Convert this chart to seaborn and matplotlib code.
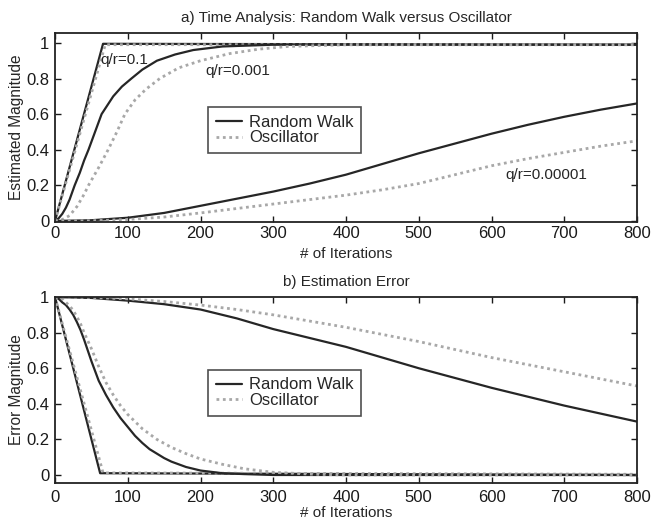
import matplotlib
matplotlib.use("Agg")
import matplotlib.pyplot as plt
import seaborn as sns

# ---- data -------------------------------------------------------------
# q/r = 0.1
fast_rw_iter = [0, 66, 800]
fast_rw_est = [0.0, 0.995, 0.99]
fast_osc_iter = [0, 69, 800]
fast_osc_est = [0.0, 0.99, 0.99]

# q/r = 0.001
mid_rw_iter = [0, 5, 10, 15, 20, 27, 34, 40, 46, 55, 64, 72, 80, 92, 105, 120,
               140, 165, 190, 230, 300, 800]
mid_rw_est = [0.0, 0.015, 0.04, 0.075, 0.12, 0.2, 0.27, 0.34, 0.4, 0.5, 0.6,
              0.65, 0.7, 0.755, 0.8, 0.85, 0.9, 0.935, 0.96, 0.98, 0.99, 0.99]
mid_osc_iter = [0, 10, 20, 30, 40, 46, 53, 60, 73, 85, 96, 110, 125, 144, 170,
                200, 240, 280, 320, 400, 800]
mid_osc_est = [0.0, 0.008, 0.03, 0.08, 0.15, 0.2, 0.25, 0.3, 0.4, 0.5, 0.6,
               0.68, 0.74, 0.8, 0.86, 0.9, 0.94, 0.965, 0.98, 0.99, 0.99]

# q/r = 0.00001
slow_iter = [0, 50, 100, 150, 200, 250, 300, 350, 400, 450, 500, 550, 600,
             650, 700, 750, 800]
slow_rw_est = [0.0, 0.004, 0.018, 0.045, 0.085, 0.125, 0.165, 0.21, 0.26,
               0.32, 0.38, 0.435, 0.49, 0.54, 0.585, 0.625, 0.66]
slow_osc_est = [0.0, 0.001, 0.008, 0.022, 0.045, 0.07, 0.095, 0.12, 0.145,
                0.175, 0.21, 0.26, 0.31, 0.35, 0.385, 0.42, 0.45]

# estimation error
fast_rw_err_iter = [0, 62, 800]
fast_rw_err = [1.0, 0.01, 0.0]
fast_osc_err_iter = [0, 66, 800]
fast_osc_err = [1.0, 0.012, 0.004]

mid_rw_err_iter = [0, 5, 10, 15, 20, 25, 30, 35, 40, 45, 50, 55, 60, 65, 70,
                   80, 90, 100, 110, 120, 130, 140, 150, 160, 180, 200, 230,
                   260, 300, 800]
mid_rw_err = [1.0, 0.99, 0.97, 0.955, 0.93, 0.9, 0.86, 0.815, 0.76, 0.7, 0.64,
              0.585, 0.53, 0.49, 0.45, 0.38, 0.32, 0.27, 0.22, 0.18, 0.145,
              0.12, 0.095, 0.075, 0.045, 0.025, 0.01, 0.005, 0.0, 0.0]
mid_osc_err_iter = [0, 10, 20, 25, 30, 35, 40, 45, 50, 55, 60, 65, 70, 80, 90,
                    100, 110, 120, 130, 140, 160, 180, 200, 230, 260, 300, 350,
                    400, 800]
mid_osc_err = [1.0, 0.99, 0.95, 0.925, 0.89, 0.85, 0.8, 0.755, 0.71, 0.66,
               0.61, 0.565, 0.52, 0.45, 0.39, 0.34, 0.3, 0.26, 0.23, 0.2,
               0.155, 0.12, 0.09, 0.06, 0.035, 0.015, 0.005, 0.0, 0.0]

slow_rw_err = [1.0, 0.995, 0.98, 0.96, 0.93, 0.88, 0.82, 0.77, 0.72, 0.66,
               0.6, 0.545, 0.49, 0.44, 0.39, 0.345, 0.3]
slow_osc_err = [1.0, 0.998, 0.99, 0.975, 0.955, 0.93, 0.9, 0.865, 0.83, 0.79,
                0.75, 0.705, 0.66, 0.62, 0.58, 0.54, 0.5]

x_ticks = [0, 100, 200, 300, 400, 500, 600, 700, 800]
y_ticks = [0, 0.2, 0.4, 0.6, 0.8, 1]
y_tick_labels = ["0", "0.2", "0.4", "0.6", "0.8", "1"]

# ---- style ------------------------------------------------------------
sns.set_style("ticks")
plt.rcParams["font.family"] = ["Liberation Sans", "DejaVu Sans"]

RW_COLOR = "#262626"
OSC_COLOR = "#a8a8a8"

fig = plt.figure(figsize=(6.52, 5.23), dpi=100)
ax_top = fig.add_axes([0.0844, 0.5755, 0.8926, 0.3615])
ax_bot = fig.add_axes([0.0844, 0.0765, 0.8926, 0.3555])


def draw(ax, xs, ys, kind, label):
    if kind == "rw":
        sns.lineplot(x=xs, y=ys, ax=ax, color=RW_COLOR, lw=1.6,
                     label=label, estimator=None)
    else:
        sns.lineplot(x=xs, y=ys, ax=ax, color=OSC_COLOR, lw=2.0,
                     linestyle=(0, (1, 1.3)), label=label, estimator=None)


def style_axes(ax, ylim, xpad, xlabelpad):
    ax.set_xlim(0, 800)
    ax.set_ylim(*ylim)
    ax.set_xticks(x_ticks)
    ax.set_xticklabels([str(t) for t in x_ticks])
    ax.set_yticks(y_ticks)
    ax.set_yticklabels(y_tick_labels)
    ax.tick_params(direction="in", top=True, right=True, length=4,
                   width=1.0, labelsize=12, pad=4, colors="#1a1a1a")
    ax.tick_params(axis="x", pad=xpad)
    for s in ax.spines.values():
        s.set_visible(True)
        s.set_linewidth(1.3)
        s.set_color("#222222")
    ax.set_xlabel("# of Iterations", fontsize=11, labelpad=xlabelpad)
    leg = ax.legend(loc="upper left", bbox_to_anchor=(0.263, 0.608),
                    fontsize=12, frameon=True, fancybox=False,
                    handlelength=1.6, borderpad=0.45, labelspacing=0.05,
                    borderaxespad=0, handletextpad=0.4)
    leg.get_frame().set_edgecolor("#222222")
    leg.get_frame().set_linewidth(1.2)


# a) estimated magnitude
draw(ax_top, fast_rw_iter, fast_rw_est, "rw", "Random Walk")
draw(ax_top, fast_osc_iter, fast_osc_est, "osc", "Oscillator")
draw(ax_top, mid_rw_iter, mid_rw_est, "rw", "_nolegend_")
draw(ax_top, mid_osc_iter, mid_osc_est, "osc", "_nolegend_")
draw(ax_top, slow_iter, slow_rw_est, "rw", "_nolegend_")
draw(ax_top, slow_iter, slow_osc_est, "osc", "_nolegend_")
style_axes(ax_top, (-0.006, 1.056), xpad=3, xlabelpad=4)
ax_top.set_ylabel("Estimated Magnitude", fontsize=11.2, labelpad=2)
ax_top.set_title("a) Time Analysis: Random Walk versus Oscillator",
                 fontsize=11, pad=8)
ax_top.text(62, 0.905, "q/r=0.1", fontsize=11, va="center", ha="left")
ax_top.text(206, 0.84, "q/r=0.001", fontsize=11, va="center", ha="left")
ax_top.text(619, 0.26, "q/r=0.00001", fontsize=11, va="center", ha="left")

# b) estimation error
draw(ax_bot, fast_rw_err_iter, fast_rw_err, "rw", "Random Walk")
draw(ax_bot, fast_osc_err_iter, fast_osc_err, "osc", "Oscillator")
draw(ax_bot, mid_rw_err_iter, mid_rw_err, "rw", "_nolegend_")
draw(ax_bot, mid_osc_err_iter, mid_osc_err, "osc", "_nolegend_")
draw(ax_bot, slow_iter, slow_rw_err, "rw", "_nolegend_")
draw(ax_bot, slow_iter, slow_osc_err, "osc", "_nolegend_")
style_axes(ax_bot, (-0.045, 1.0), xpad=5, xlabelpad=1)
ax_bot.set_ylabel("Error Magnitude", fontsize=11.2, labelpad=2)
ax_bot.set_title("b) Estimation Error", fontsize=11, pad=8)

fig.savefig("out.png", dpi=100, facecolor="white")
